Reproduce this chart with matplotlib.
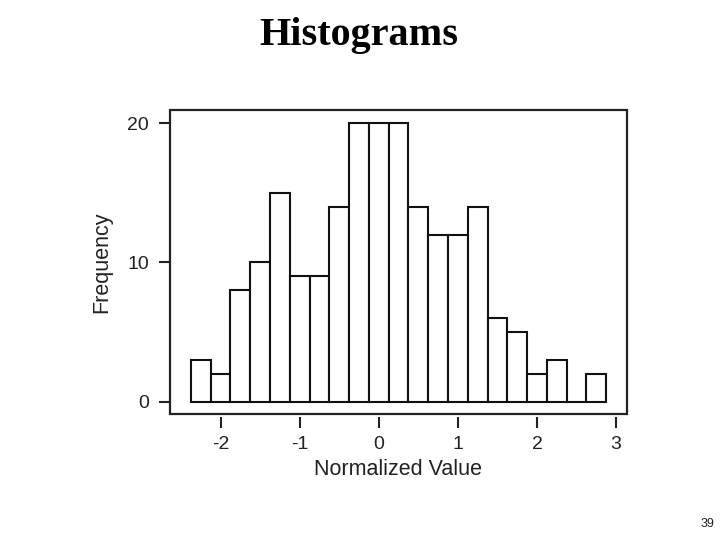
import numpy as np
import matplotlib
matplotlib.use("Agg")
import matplotlib.pyplot as plt
from matplotlib.patches import Rectangle

plt.rcParams['axes.unicode_minus'] = False
plt.rcParams['font.family'] = ['Liberation Sans', 'DejaVu Sans']

bin_left_edges = [-2.375, -2.125, -1.875, -1.625, -1.375, -1.125, -0.875, -0.625,
                  -0.375, -0.125, 0.125, 0.375, 0.625, 0.875, 1.125, 1.375,
                  1.625, 1.875, 2.125, 2.375, 2.625]
counts = [3, 2, 8, 10, 15, 9, 9, 14, 20, 20, 20, 14, 12, 12, 14, 6, 5, 2, 3, 0, 2]
bin_width = 0.25
x_ticks = [-2, -1, 0, 1, 2, 3]
y_ticks = [0, 10, 20]

fig = plt.figure(figsize=(7.2, 5.4), dpi=100)
ax = fig.add_axes([0.2361, 0.2333, 0.6347, 0.5630])

ax.bar(bin_left_edges, counts, width=bin_width, align='edge',
       facecolor='white', edgecolor='#111111', linewidth=1.5)

ax.set_xlim(-2.64, 3.138)
ax.set_ylim(-0.88, 20.95)
ax.set_xticks(x_ticks)
ax.set_yticks(y_ticks)
ax.set_xticklabels([str(t) for t in x_ticks])
ax.set_yticklabels([str(t) for t in y_ticks])

for s in ax.spines.values():
    s.set_visible(False)
ax.spines['bottom'].set_position(('outward', 2.5))
ax.add_patch(Rectangle((0, 0), 1, 1, transform=ax.transAxes, fill=False,
                       edgecolor='#222222', linewidth=1.6, clip_on=False, zorder=5))

ax.tick_params(axis='both', direction='out', length=8, width=1.5, color='#222222',
               labelsize=14, labelcolor='#222222')
ax.tick_params(axis='x', pad=5)
ax.tick_params(axis='y', pad=7)

ax.set_xlabel('Normalized Value', fontsize=15.5, color='#222222', labelpad=5)
ax.set_ylabel('Frequency', fontsize=15.5, color='#222222', labelpad=11)

fig.text(0.499, 0.934, 'Histograms', ha='center', va='center',
         fontsize=29, fontweight='bold', family=['Liberation Serif', 'DejaVu Serif'])
fig.text(0.982, 0.03, '39', ha='center', va='center', fontsize=9, color='#222222')

fig.savefig('out.png', dpi=100)
